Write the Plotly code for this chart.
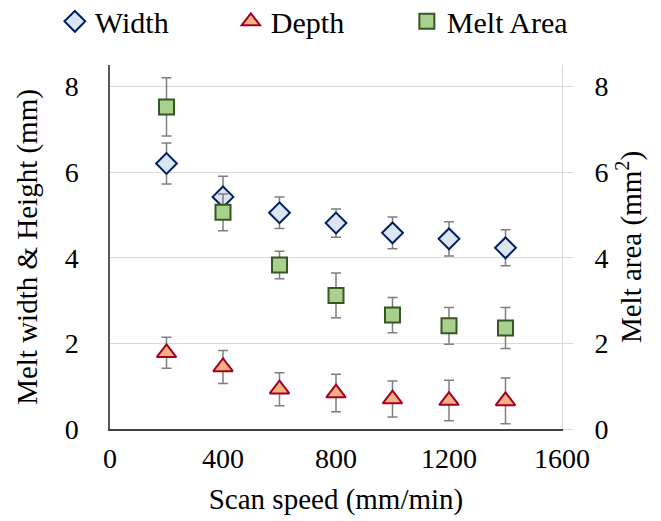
import plotly.graph_objects as go

speed = [200, 400, 600, 800, 1000, 1200, 1400]
width = [6.20, 5.42, 5.05, 4.81, 4.58, 4.44, 4.23]
width_err = [0.48, 0.48, 0.37, 0.33, 0.37, 0.40, 0.42]
depth = [1.78, 1.45, 0.93, 0.84, 0.70, 0.665, 0.655]
depth_err = [0.36, 0.385, 0.385, 0.44, 0.42, 0.475, 0.535]
area = [7.52, 5.06, 3.83, 3.12, 2.66, 2.41, 2.36]
area_err = [0.68, 0.43, 0.32, 0.52, 0.41, 0.43, 0.48]

x_ticks = [0, 400, 800, 1200, 1600]
y_ticks = [0, 2, 4, 6, 8]

FONT = "Liberation Serif"
TICKF = dict(family=FONT, size=28, color="black")
TITLEF = dict(family=FONT, size=29, color="black")
ERR = dict(type="data", visible=True, color="#7F7F7F", thickness=1.5, width=5)

fig = go.Figure()
fig.add_trace(go.Scatter(
    x=speed, y=width, mode="markers", name="Width",
    error_y=dict(array=width_err, **ERR),
    marker=dict(symbol="diamond", size=16, color="#DCE6F2",
                line=dict(color="#002060", width=2)),
))
fig.add_trace(go.Scatter(
    x=speed, y=depth, mode="markers", name="Depth",
    error_y=dict(array=depth_err, **ERR),
    marker=dict(symbol="triangle-up", size=17, color="#F4B183",
                line=dict(color="#A50021", width=2)),
))
fig.add_trace(go.Scatter(
    x=speed, y=area, mode="markers", name="Melt Area", yaxis="y2",
    error_y=dict(array=area_err, **ERR),
    marker=dict(symbol="square", size=15, color="#A9D18E",
                line=dict(color="#375623", width=2)),
))

fig.update_layout(
    width=661, height=521,
    margin=dict(l=110, r=99, t=65, b=92, autoexpand=False),
    paper_bgcolor="white", plot_bgcolor="white",
    font=dict(family=FONT, size=28, color="black"),
    showlegend=True,
    legend=dict(orientation="h", x=-0.122, xanchor="left", y=1.12, yanchor="middle",
                font=dict(size=30, family=FONT, color="black"), entrywidth=131, entrywidthmode="pixels",
                bgcolor="rgba(0,0,0,0)"),
    xaxis=dict(range=[0, 1600], tickvals=x_ticks, showgrid=False, zeroline=False,
               showline=True, linecolor="#404040", linewidth=1.5, ticks="",
               tickfont=TICKF, ticklabelstandoff=4, automargin=False,
               title=dict(text="Scan speed (mm/min)", font=TITLEF, standoff=15)),
    yaxis=dict(range=[0, 8.5], tickvals=y_ticks, showgrid=True, gridcolor="#D9D9D9", gridwidth=1,
               zeroline=False, showline=True, linecolor="#595959", linewidth=1.5, ticks="",
               tickfont=TICKF, ticklabelstandoff=24, automargin=False,
               title=dict(text="Melt width & Height (mm)", font=TITLEF, standoff=19)),
    yaxis2=dict(range=[0, 8.5], tickvals=y_ticks, overlaying="y", side="right", showgrid=False,
                zeroline=False, showline=True, linecolor="#D9D9D9", linewidth=1,
                ticks="outside", ticklen=10, tickcolor="#D9D9D9", ticklabelstandoff=16,
                tickfont=TICKF, automargin=False,
                title=dict(text="Melt area (mm<sup>2</sup>)", font=TITLEF, standoff=13)),
)

fig.write_html("out.html", config={"displayModeBar": False},
               post_script="document.body.style.margin='0';document.body.style.padding='0';")
